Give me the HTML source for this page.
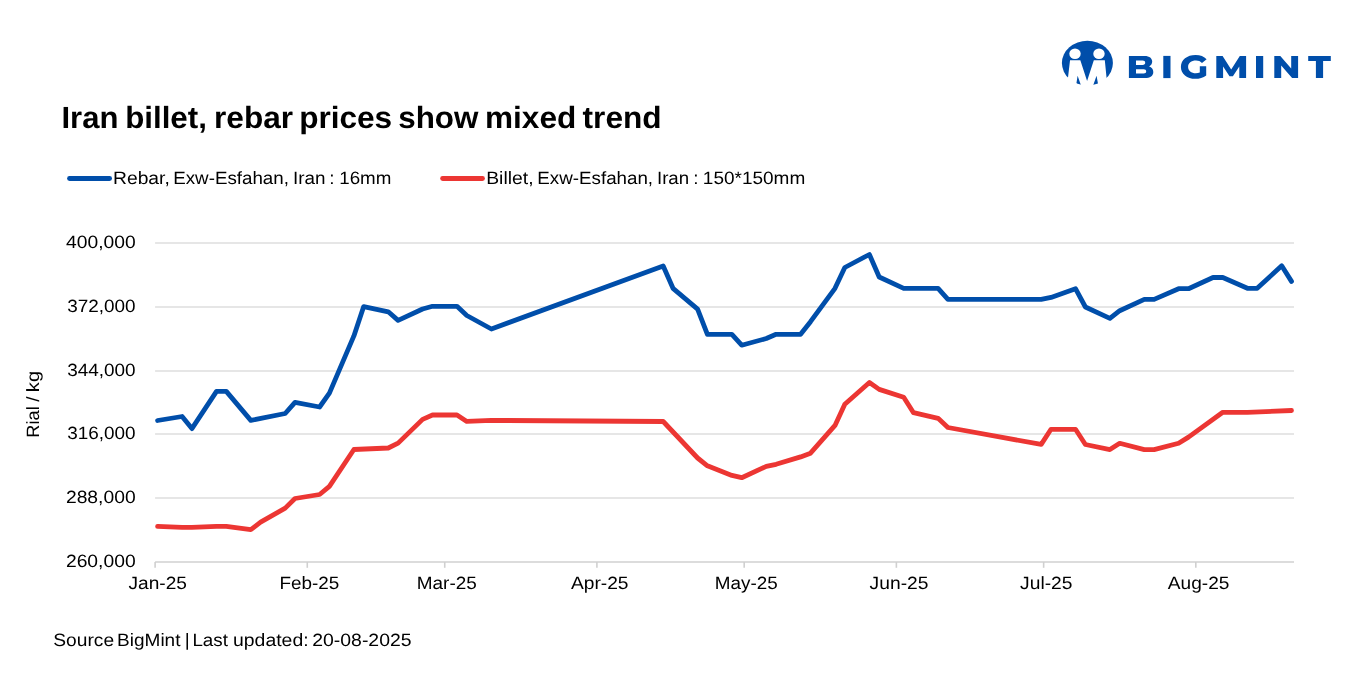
<!DOCTYPE html>
<html><head><meta charset="utf-8"><title>Iran billet, rebar prices show mixed trend</title>
<style>
html,body{margin:0;padding:0;background:#fff;}
body{width:1350px;height:675px;overflow:hidden;font-family:"Liberation Sans",sans-serif;}
svg{display:block;}
text{font-family:"Liberation Sans",sans-serif;fill:#000;text-rendering:geometricPrecision;}
svg{will-change:transform;}
.ax{font-size:17.8px;}
.ttl{font-size:30.6px;font-weight:bold;fill:#000;}
</style></head><body>
<svg width="1350" height="675" viewBox="0 0 1350 675">
<!-- logo -->
<g>
<ellipse cx="1087.4" cy="63.1" rx="25.5" ry="22.3" fill="#004eaa"/>
<ellipse cx="1075.01" cy="53.74" rx="5.7" ry="5.3" fill="#fff"/>
<ellipse cx="1098.98" cy="53.74" rx="5.7" ry="5.3" fill="#fff"/>
<polygon points="1070.03,60.33 1080.33,60.33 1087.08,81.01 1093.83,60.33 1104.81,60.33 1107.68,89.03 1098.98,89.03 1096.53,75.86 1091.89,89.03 1082.27,89.03 1077.62,75.86 1075.51,89.03 1066.65,89.03" fill="#fff"/>
</g>
<g id="wordmark" fill="#004eaa">
<!-- B -->
<path fill-rule="evenodd" d="M1128.9 55.9 H1144.6 C1149.6 55.9 1152.2 58.3 1152.2 61.6 C1152.2 63.9 1151 65.6 1149.1 66.5 C1151.7 67.3 1153.3 69.2 1153.3 71.9 C1153.3 75.8 1150.2 78.1 1144.7 78.1 H1128.9 Z M1136 60.6 V64.9 H1142.6 C1144.3 64.9 1145.2 64.1 1145.2 62.7 C1145.2 61.3 1144.3 60.6 1142.6 60.6 Z M1136 69.3 V73.4 H1143.6 C1145.3 73.4 1146.2 72.7 1146.2 71.4 C1146.2 70 1145.3 69.3 1143.6 69.3 Z"/>
<!-- I -->
<rect x="1163.3" y="55.9" width="7.2" height="22.2"/>
<!-- G -->
<path d="M1206.2 66.3 V75.4 C1203.3 77.6 1199.3 78.8 1195.4 78.8 C1187 78.8 1180.9 73.9 1180.9 66.9 C1180.9 59.9 1187 55 1195.6 55 C1200.3 55 1204.1 56.5 1206.6 59.3 L1202 63.1 C1200.4 61.4 1198.5 60.6 1196 60.6 C1191.2 60.6 1188.1 63.1 1188.1 66.9 C1188.1 70.6 1191.2 73.2 1195.9 73.2 C1197.3 73.2 1198.6 73 1199.8 72.5 V66.3 Z"/>
<!-- M -->
<polygon points="1216.3,78 1216.3,56 1222.6,56 1231.2,69.6 1239.8,56 1246.1,56 1246.1,78 1239.3,78 1239.3,66.5 1232.9,76.3 1229.5,76.3 1223.1,66.5 1223.1,78"/>
<!-- I -->
<rect x="1256" y="56" width="7.2" height="22"/>
<!-- N -->
<polygon points="1274.3,78 1274.3,56 1280.3,56 1291.2,68.4 1291.2,56 1298.1,56 1298.1,78 1292.1,78 1281.2,65.6 1281.2,78"/>
<!-- T -->
<polygon points="1308.2,56 1330.8,56 1330.8,61 1323.1,61 1323.1,78 1315.9,78 1315.9,61 1308.2,61"/>
</g>
<!-- title -->
<text class="ttl" transform="matrix(1.0146 0 0 1 61.46 128)">Iran</text>
<text class="ttl" transform="matrix(1.0225 0 0 1 125.14 128)">billet,</text>
<text class="ttl" transform="matrix(1.0324 0 0 1 214.03 128)">rebar</text>
<text class="ttl" transform="matrix(1.0321 0 0 1 299.13 128)">prices</text>
<text class="ttl" transform="matrix(1.0252 0 0 1 398.22 128)">show</text>
<text class="ttl" transform="matrix(1.0311 0 0 1 485.03 128)">mixed</text>
<text class="ttl" transform="matrix(1.0330 0 0 1 582.60 128)">trend</text>

<!-- legend -->
<line x1="69.5" x2="109.6" y1="178.5" y2="178.5" stroke="#004eaa" stroke-width="4.8" stroke-linecap="round"/>
<text class="ax" transform="matrix(1.0840 0 0 1 112.99 183.7)">Rebar,</text>
<text class="ax" transform="matrix(1.0542 0 0 1 173.23 183.7)">Exw-Esfahan,</text>
<text class="ax" transform="matrix(1.0608 0 0 1 292.92 183.7)">Iran</text>
<text class="ax" transform="matrix(1.0700 0 0 1 329.17 183.7)">:</text>
<text class="ax" transform="matrix(1.0544 0 0 1 339.23 183.7)">16mm</text>

<line x1="442.6" x2="482.5" y1="178.5" y2="178.5" stroke="#ec3633" stroke-width="4.8" stroke-linecap="round"/>
<text class="ax" transform="matrix(1.0881 0 0 1 486.19 183.7)">Billet,</text>
<text class="ax" transform="matrix(1.0551 0 0 1 537.33 183.7)">Exw-Esfahan,</text>
<text class="ax" transform="matrix(1.0501 0 0 1 656.94 183.7)">Iran</text>
<text class="ax" transform="matrix(1.0700 0 0 1 693.17 183.7)">:</text>
<text class="ax" transform="matrix(1.0687 0 0 1 702.81 183.7)">150*150mm</text>

<!-- grid -->
<line x1="155.1" x2="1294.0" y1="243.00" y2="243.00" stroke="#dedede" stroke-width="1.6"/>
<line x1="155.1" x2="1294.0" y1="307.00" y2="307.00" stroke="#dedede" stroke-width="1.6"/>
<line x1="155.1" x2="1294.0" y1="371.00" y2="371.00" stroke="#dedede" stroke-width="1.6"/>
<line x1="155.1" x2="1294.0" y1="434.00" y2="434.00" stroke="#dedede" stroke-width="1.6"/>
<line x1="155.1" x2="1294.0" y1="498.00" y2="498.00" stroke="#dedede" stroke-width="1.6"/>
<line x1="155.1" x2="1294.0" y1="562.0" y2="562.0" stroke="#d0d0d0" stroke-width="1.6"/>
<line x1="155.10" x2="155.10" y1="562.0" y2="567.8" stroke="#d0d0d0" stroke-width="1.6"/>
<line x1="307.28" x2="307.28" y1="562.0" y2="567.8" stroke="#d0d0d0" stroke-width="1.6"/>
<line x1="444.73" x2="444.73" y1="562.0" y2="567.8" stroke="#d0d0d0" stroke-width="1.6"/>
<line x1="596.91" x2="596.91" y1="562.0" y2="567.8" stroke="#d0d0d0" stroke-width="1.6"/>
<line x1="744.19" x2="744.19" y1="562.0" y2="567.8" stroke="#d0d0d0" stroke-width="1.6"/>
<line x1="896.37" x2="896.37" y1="562.0" y2="567.8" stroke="#d0d0d0" stroke-width="1.6"/>
<line x1="1043.64" x2="1043.64" y1="562.0" y2="567.8" stroke="#d0d0d0" stroke-width="1.6"/>
<line x1="1195.82" x2="1195.82" y1="562.0" y2="567.8" stroke="#d0d0d0" stroke-width="1.6"/>

<!-- labels -->
<text class="ax" transform="matrix(1.0830 0 0 1 66.00 248.00)">400,000</text>
<text class="ax" transform="matrix(1.0640 0 0 1 67.21 312.00)">372,000</text>
<text class="ax" transform="matrix(1.0640 0 0 1 67.21 376.00)">344,000</text>
<text class="ax" transform="matrix(1.0640 0 0 1 67.21 439.00)">316,000</text>
<text class="ax" transform="matrix(1.0846 0 0 1 65.90 503.00)">288,000</text>
<text class="ax" transform="matrix(1.0846 0 0 1 65.90 567.00)">260,000</text>
<text class="ax" transform="matrix(1.0744 0 0 1 128.56 588.8)">Jan-25</text>
<text class="ax" transform="matrix(1.0629 0 0 1 279.41 588.8)">Feb-25</text>
<text class="ax" transform="matrix(1.0651 0 0 1 416.81 588.8)">Mar-25</text>
<text class="ax" transform="matrix(1.0796 0 0 1 570.92 588.8)">Apr-25</text>
<text class="ax" transform="matrix(1.0604 0 0 1 714.82 588.8)">May-25</text>
<text class="ax" transform="matrix(1.0819 0 0 1 869.62 588.8)">Jun-25</text>
<text class="ax" transform="matrix(1.0825 0 0 1 1020.09 588.8)">Jul-25</text>
<text class="ax" transform="matrix(1.0745 0 0 1 1167.82 588.8)">Aug-25</text>

<g transform="translate(39.0,436.2) rotate(-90)"><text class="ax" transform="matrix(1.0249 0 0 1 -1.43 0)">Rial</text>
<text class="ax" transform="matrix(1.0700 0 0 1 34.52 0)">/</text>
<text class="ax" transform="matrix(1.1326 0 0 1 44.04 0)">kg</text>
</g>
<!-- series -->
<polyline points="157.6,420.5 182.1,416.5 191.9,428.6 216.5,391.4 226.3,391.4 250.8,420.4 285.2,413.5 295.0,402.3 319.6,407.0 329.4,393.1 353.9,335.9 363.7,306.6 388.3,311.8 398.1,320.4 422.6,309.0 432.5,306.3 457.0,306.3 466.8,315.5 491.4,329.0 663.2,266.0 673.0,288.3 697.6,309.1 707.4,334.3 731.9,334.3 741.7,345.2 766.3,338.5 776.1,334.3 800.6,334.3 810.5,321.7 835.0,288.3 844.8,267.5 869.4,254.5 879.2,277.0 903.7,288.4 938.1,288.4 947.9,299.4 1041.2,299.4 1051.0,297.4 1075.5,288.7 1085.4,307.0 1109.9,318.4 1119.7,310.7 1144.3,299.4 1154.1,299.4 1178.6,288.7 1188.5,288.7 1213.0,277.5 1222.8,277.5 1247.4,288.3 1257.2,288.3 1281.7,265.8 1291.5,281.4" fill="none" stroke="#004eaa" stroke-width="4.8" stroke-linecap="round" stroke-linejoin="round"/>
<polyline points="157.6,526.4 182.1,527.4 191.9,527.4 216.5,526.4 226.3,526.4 250.8,529.6 260.6,522.2 285.2,508.1 295.0,498.5 319.6,494.5 329.4,486.3 353.9,449.5 388.3,448.0 398.1,443.1 422.6,419.4 432.5,415.0 457.0,415.0 466.8,421.4 491.4,420.4 663.2,421.5 697.6,458.0 707.4,465.8 731.9,475.4 741.7,477.7 766.3,466.4 776.1,464.3 800.6,456.9 810.5,453.2 835.0,425.4 844.8,404.2 869.4,382.5 879.2,389.4 903.7,397.3 913.5,412.7 938.1,418.3 947.9,427.5 1041.2,444.4 1051.0,429.3 1075.5,429.3 1085.4,444.5 1109.9,449.6 1119.7,443.3 1144.3,449.6 1154.1,449.6 1178.6,443.3 1188.5,437.1 1222.8,412.3 1247.4,412.3 1291.5,410.5" fill="none" stroke="#ec3633" stroke-width="4.8" stroke-linecap="round" stroke-linejoin="round"/>
<!-- source -->
<text class="ax" transform="matrix(1.0794 0 0 1 53.30 646.3)">Source</text>
<text class="ax" transform="matrix(1.0685 0 0 1 117.11 646.3)">BigMint</text>
<text class="ax" transform="matrix(1.0700 0 0 1 184.67 646.3)">|</text>
<text class="ax" transform="matrix(1.0552 0 0 1 192.43 646.3)">Last</text>
<text class="ax" transform="matrix(1.0921 0 0 1 232.99 646.3)">updated:</text>
<text class="ax" transform="matrix(1.0928 0 0 1 312.19 646.3)">20-08-2025</text>

</svg>
</body></html>
